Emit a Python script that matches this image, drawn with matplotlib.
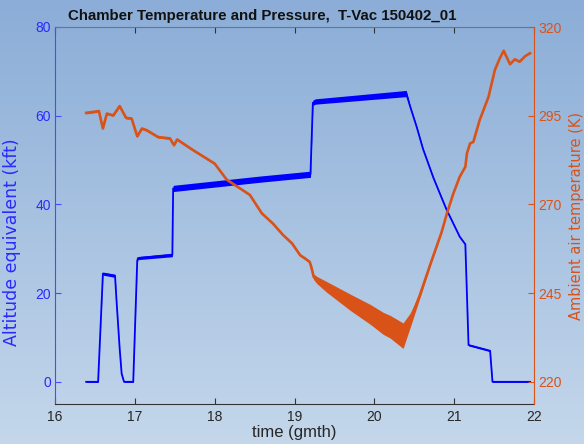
import numpy as np
import matplotlib
matplotlib.use('Agg')
import matplotlib.pyplot as plt
from matplotlib.colors import LinearSegmentedColormap

plt.rcParams['font.family'] = ['Liberation Sans', 'DejaVu Sans']

# ---------------- data ----------------
alt_time = [16.39, 16.54, 16.60, 16.752, 16.77, 16.81, 16.835, 16.865, 16.98,
            17.03, 17.04, 17.47, 17.48, 18.57, 19.20, 19.23, 19.26, 20.40,
            20.45, 20.53, 20.61, 20.74, 20.90, 21.07, 21.14, 21.18, 21.45,
            21.48, 21.95]
alt_kft = [0, 0, 24.4, 23.9, 18.5, 7.5, 1.8, 0, 0,
           27.3, 27.9, 28.6, 43.6, 45.7, 46.8, 62.9, 63.2, 65.0,
           62.0, 57.5, 52.5, 46.0, 39.0, 32.7, 31.0, 8.3, 7.0,
           0, 0]
alt_noise = [0.12, 0.12, 0.35, 0.35, 0.1, 0.1, 0.1, 0.12, 0.12,
             0.35, 0.35, 0.4, 0.7, 0.7, 0.7, 0.6, 0.6, 0.7,
             0.2, 0.15, 0.15, 0.15, 0.15, 0.15, 0.15, 0.2, 0.2,
             0.12, 0.12]

temp_time = [16.39, 16.55, 16.60, 16.65, 16.73, 16.81, 16.89, 16.96, 17.03,
             17.09, 17.15, 17.29, 17.44, 17.49, 17.53, 17.73, 18.00, 18.15,
             18.44, 18.59, 18.73, 18.86, 18.97, 19.07, 19.13, 19.19, 19.21,
             19.24, 19.28, 19.40, 19.70, 19.95, 20.11, 20.20, 20.36, 20.45,
             20.57, 20.70, 20.84, 20.91, 20.99, 21.07, 21.14, 21.16, 21.20,
             21.24, 21.32, 21.43, 21.47, 21.51, 21.57, 21.62, 21.70, 21.76,
             21.82, 21.89, 21.95]
temp_K = [295.8, 296.3, 291.4, 295.6, 295.1, 297.7, 294.4, 294.2, 289.2,
          291.4, 290.9, 289.0, 288.6, 286.7, 288.3, 285.3, 281.5, 277.0,
          272.7, 267.5, 264.6, 261.3, 259.0, 255.7, 254.8, 253.8, 252.4,
          249.6, 248.7, 246.8, 242.4, 239.0, 236.5, 235.5, 233.0, 237.4,
          244.4, 253.0, 262.0, 267.5, 273.1, 277.8, 280.6, 284.4, 287.2,
          287.6, 293.8, 300.3, 304.1, 307.9, 311.1, 313.3, 309.5, 310.9,
          310.2, 311.8, 312.6]
temp_noise = [0.3, 0.3, 0.3, 0.3, 0.3, 0.3, 0.3, 0.3, 0.3,
              0.3, 0.3, 0.3, 0.3, 0.3, 0.3, 0.3, 0.3, 0.3,
              0.3, 0.3, 0.3, 0.3, 0.3, 0.3, 0.3, 0.3, 0.4,
              0.8, 1.0, 1.5, 2.3, 2.8, 3.1, 3.2, 3.6, 2.0,
              0.8, 0.3, 0.0, 0.0, 0.0, 0.0, 0.0, 0.0, 0.0,
              0.0, 0.0, 0.0, 0.0, 0.0, 0.0, 0.0, 0.0, 0.0,
              0.0, 0.0, 0.0]

x_ticks = [16, 17, 18, 19, 20, 21, 22]
alt_ticks = [0, 20, 40, 60, 80]
temp_ticks = [220, 245, 270, 295, 320]

title = 'Chamber Temperature and Pressure,  T-Vac 150402_01'
xlabel = 'time (gmth)'
ylabel_left = 'Altitude equivalent (kft)'
ylabel_right = 'Ambient air temperature (K)'

# ---------------- styling ----------------
BLUE = '#0000ff'
BLUE_TXT = '#2a2aff'
ORANGE = '#d95319'
W, H = 584, 444

fig = plt.figure(figsize=(W / 100, H / 100), dpi=100)

bg = fig.add_axes([0, 0, 1, 1], zorder=-10)
grad = np.linspace(0, 1, 256).reshape(-1, 1)
cmap = LinearSegmentedColormap.from_list('bg', ['#8badd7', '#c4d7eb'])
bg.imshow(grad, aspect='auto', cmap=cmap, extent=[0, 1, 0, 1], origin='upper')
bg.axis('off')

ax = fig.add_axes([55 / W, 40 / H, 479 / W, 377 / H])
ax.patch.set_alpha(0)
ax2 = ax.twinx()
ax2.patch.set_alpha(0)

at = np.array(alt_time); ak = np.array(alt_kft); an = np.array(alt_noise)
ax.fill_between(at, ak - an, ak + an, color=BLUE, lw=0, zorder=2)
ax.plot(at, ak, color=BLUE, lw=1.3, zorder=3)

tt = np.array(temp_time); tk = np.array(temp_K); tn = np.array(temp_noise)
ax2.fill_between(tt, tk - tn, tk + tn, color=ORANGE, lw=0, zorder=2)
ax2.plot(tt, tk, color=ORANGE, lw=1.9, zorder=3)

ax.set_xlim(16, 22)
ax.set_ylim(-5, 80)
ax2.set_ylim(213.75, 320)
ax.set_xticks(x_ticks)
ax.set_yticks(alt_ticks)
ax2.set_yticks(temp_ticks)

ax.tick_params(axis='x', direction='in', length=4, top=True, colors='#333333',
               labelcolor='#262626', labelsize=10, pad=4)
ax.tick_params(axis='y', direction='in', length=4, colors='#4a4aff',
               labelcolor=BLUE_TXT, labelsize=10, pad=3)
ax2.tick_params(axis='y', direction='in', length=4, colors=ORANGE,
                labelcolor=ORANGE, labelsize=10, pad=3)

for s in ['left', 'top', 'bottom']:
    ax2.spines[s].set_visible(False)
ax.spines['right'].set_visible(False)
ax.spines['left'].set_color('#4a4aff')
ax.spines['top'].set_color('#6c7584')
ax.spines['bottom'].set_color('#333333')
ax2.spines['right'].set_color(ORANGE)

ax.set_title(title, fontsize=10.8, fontweight='bold', color='#111111', pad=5,
             x=0.433)
ax.set_xlabel(xlabel, fontsize=12, color='#262626', labelpad=1)
ax.set_ylabel(ylabel_left, fontsize=12.5, color=BLUE_TXT, family='DejaVu Sans')
ax2.set_ylabel(ylabel_right, fontsize=10.5, color=ORANGE, family='DejaVu Sans')
ax.yaxis.set_label_coords(-0.071, 0.43)
ax2.yaxis.set_label_coords(1.074, 0.5)

fig.savefig('out.png', dpi=100)
